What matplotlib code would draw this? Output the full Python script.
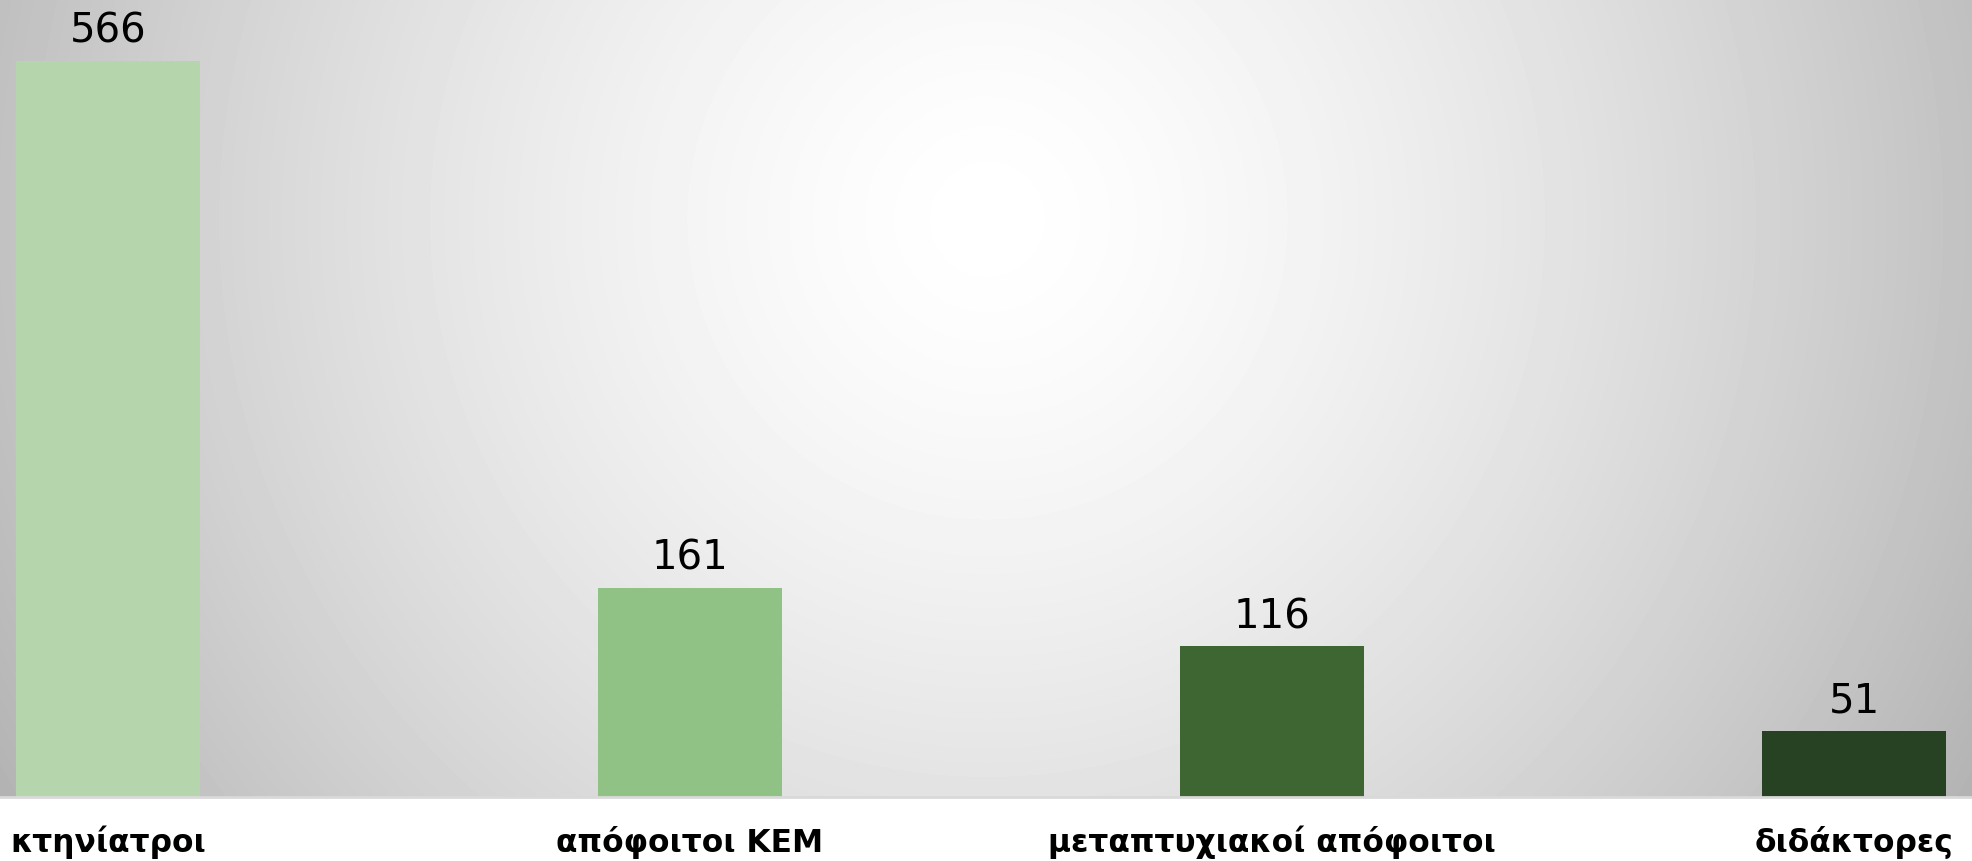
import numpy as np
import matplotlib
matplotlib.use("Agg")
import matplotlib.pyplot as plt

categories = ["κτηνίατροι", "απόφοιτοι ΚΕΜ", "μεταπτυχιακοί απόφοιτοι", "διδάκτορες"]
values = [566, 161, 116, 51]
colors = ["#B5D6AC", "#90C285", "#3D6632", "#264222"]

W, H = 1972, 862
ax_h = 798  # pixels of the gradient panel

fig = plt.figure(figsize=(W / 100, H / 100), dpi=100)
fig.patch.set_facecolor("white")
ax = fig.add_axes([0, (H - ax_h) / H, 1, ax_h / H])

x = np.arange(len(categories))
xlim = (-0.1856, 3.2027)
ylim = (0, 613.6)

# radial grey gradient behind the bars
gx, gy = np.meshgrid(np.arange(W), np.arange(ax_h))
d = np.hypot(gx - 987, gy - 220)
shade = 255 - 25 * (d / 530) ** 1.45
shade = np.clip(shade, 0, 255) / 255
ax.imshow(shade, cmap="gray", vmin=0, vmax=1, aspect="auto",
          extent=[xlim[0], xlim[1], ylim[0], ylim[1]], origin="upper", zorder=0)

bars = ax.bar(x, values, width=0.316, color=colors, zorder=2)
ax.axhline(0, color="#D9D9D9", lw=2, zorder=3, clip_on=False)

for b, v in zip(bars, values):
    ax.annotate(str(v), (b.get_x() + b.get_width() / 2, v), xytext=(0, 13.7),
                textcoords="offset points", ha="center", va="baseline",
                fontsize=29, color="black", family="DejaVu Sans")

for i, c in enumerate(categories):
    ax.text(i, (10 - 64) / ax_h, c, transform=ax.get_xaxis_transform(),
            ha="center", va="baseline", fontsize=22.5, fontweight="bold",
            family="DejaVu Sans", color="black")

ax.set_xlim(*xlim)
ax.set_ylim(*ylim)
ax.axis("off")

fig.savefig("out.png", dpi=100, facecolor="white")
